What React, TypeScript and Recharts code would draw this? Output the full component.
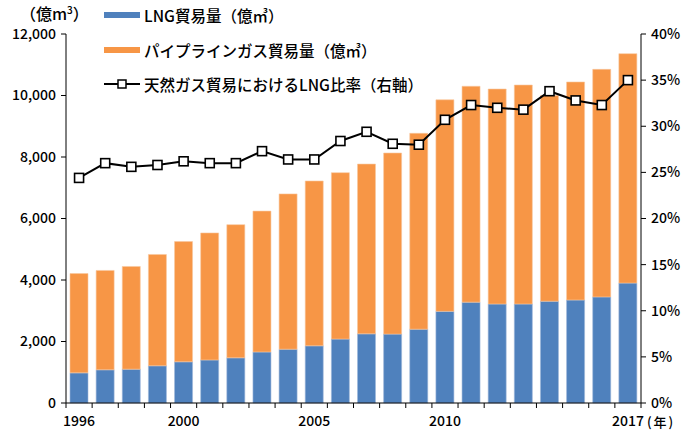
import React from "react";
import {
  ComposedChart,
  Bar,
  Line,
  XAxis,
  YAxis,
} from "recharts";

const years = [
  "1996", "1997", "1998", "1999", "2000", "2001", "2002", "2003", "2004", "2005", "2006",
  "2007", "2008", "2009", "2010", "2011", "2012", "2013", "2014", "2015", "2016", "2017",
];
// 億m3
const lngTrade = [
  980, 1080, 1100, 1210, 1340, 1400, 1470, 1660, 1750, 1860, 2080,
  2250, 2240, 2400, 2980, 3280, 3220, 3220, 3310, 3350, 3450, 3900,
];
const pipelineTrade = [
  3230, 3230, 3340, 3620, 3910, 4130, 4330, 4580, 5050, 5360, 5410,
  5520, 5890, 6370, 6880, 7020, 6990, 7120, 6690, 7090, 7400, 7460,
];
// %
const lngShare = [
  24.4, 26.0, 25.6, 25.8, 26.2, 26.0, 26.0, 27.3, 26.4, 26.4, 28.4,
  29.4, 28.1, 28.0, 30.7, 32.3, 32.0, 31.8, 33.8, 32.8, 32.3, 35.0,
];
const leftTicks = [0, 2000, 4000, 6000, 8000, 10000, 12000];
const rightTicks = [0, 5, 10, 15, 20, 25, 30, 35, 40];
const labelYears = ["1996", "2000", "2005", "2010", "2017"];

const BLUE = "#4F81BD";
const ORANGE = "#F79646";
const FONT = "'Noto Sans CJK JP', 'Noto Sans', sans-serif";
const WEIGHT = 500;

const W = 683;
const H = 438;
const LEFT_W = 66;
const RIGHT_W = 42;
const BAND = (W - LEFT_W - RIGHT_W) / years.length;

const data = years.map((y, i) => ({
  year: y,
  lng: lngTrade[i],
  pipe: pipelineTrade[i],
  share: lngShare[i],
}));

function YearTick(props: any) {
  const { x, y, payload, index } = props;
  const last = index === years.length - 1;
  return (
    <g>
      <line x1={x - BAND / 2} x2={x - BAND / 2} y1={y - 8} y2={y - 3} stroke="#000" strokeWidth={1} />
      {last && <line x1={x + BAND / 2} x2={x + BAND / 2} y1={y - 8} y2={y - 3} stroke="#000" strokeWidth={1} />}
      {labelYears.includes(payload.value) && (
        <text x={x} y={y + 15} textAnchor="middle" fontSize={14} fontWeight={WEIGHT} fontFamily={FONT} fill="#000">
          {payload.value}
        </text>
      )}
      {last && (
        <text x={x + 19} y={y + 16} textAnchor="start" fontSize={13} fontWeight={WEIGHT} fontFamily={FONT} fill="#000" letterSpacing={2}>
          (年)
        </text>
      )}
    </g>
  );
}

function SquareDot(props: any) {
  const { cx, cy } = props;
  if (cx == null || cy == null) return null;
  return <rect x={cx - 4.5} y={cy - 4.5} width={9} height={9} fill="#fff" stroke="#000" strokeWidth={1.6} />;
}

const legendItems = [
  { kind: "bar", color: BLUE, label: "LNG貿易量（億㎥）" },
  { kind: "bar", color: ORANGE, label: "パイプラインガス貿易量（億㎥）" },
  { kind: "line", color: "#000", label: "天然ガス貿易におけるLNG比率（右軸）" },
];

const tickStyle = { fontSize: 14, fill: "#000", fontFamily: FONT, fontWeight: WEIGHT };

export default function App() {
  return (
    <div style={{ position: "absolute", left: 0, top: 0, width: W, height: H, background: "#fff", fontFamily: FONT, fontWeight: WEIGHT }}>
      <ComposedChart width={W} height={H} data={data} margin={{ top: 34, right: 0, bottom: 0, left: 0 }}>
        <XAxis
          dataKey="year"
          height={35}
          axisLine={{ stroke: "#000" }}
          tickLine={false}
          tick={<YearTick />}
          interval={0}
        />
        <YAxis
          yAxisId="left"
          width={LEFT_W}
          domain={[0, 12000]}
          ticks={leftTicks}
          tickFormatter={(v: number) => v.toLocaleString("en-US")}
          tick={tickStyle}
          axisLine={{ stroke: "#000" }}
          tickLine={{ stroke: "#000" }}
          tickSize={5}
          tickMargin={5}
        />
        <YAxis
          yAxisId="right"
          orientation="right"
          width={RIGHT_W}
          domain={[0, 40]}
          ticks={rightTicks}
          tickFormatter={(v: number) => `${v}%`}
          tick={tickStyle}
          axisLine={{ stroke: "#000" }}
          tickLine={{ stroke: "#000" }}
          tickSize={5}
          tickMargin={5}
        />
        <Bar yAxisId="left" dataKey="lng" stackId="a" fill={BLUE} stroke="#9DB7DA" strokeWidth={0.6} barSize={18} isAnimationActive={false} />
        <Bar yAxisId="left" dataKey="pipe" stackId="a" fill={ORANGE} stroke="#F9C8A0" strokeWidth={0.6} barSize={18} isAnimationActive={false} />
        <Line
          yAxisId="right"
          dataKey="share"
          stroke="#000"
          strokeWidth={2}
          dot={<SquareDot />}
          activeDot={false}
          isAnimationActive={false}
        />
      </ComposedChart>

      <div style={{ position: "absolute", left: 20, top: 4, fontSize: 16, color: "#000", lineHeight: "18px", height: 18 }}>
        （億m<span style={{ fontSize: 10, position: "relative", top: -6 }}>3</span>）
      </div>

      <div style={{ position: "absolute", left: 104, top: -2 }}>
        {legendItems.map((it, i) => (
          <div key={i} style={{ display: "flex", alignItems: "center", height: 34.5, fontSize: 15.5, color: "#000", whiteSpace: "nowrap" }}>
            {it.kind === "bar" ? (
              <span style={{ display: "inline-block", width: 36, height: 6, background: it.color, marginRight: 4 }} />
            ) : (
              <svg width={36} height={12} style={{ marginRight: 4 }}>
                <line x1={0} x2={36} y1={6} y2={6} stroke="#000" strokeWidth={2} />
                <rect x={14} y={2} width={8} height={8} fill="#fff" stroke="#000" strokeWidth={1.5} />
              </svg>
            )}
            <span>{it.label}</span>
          </div>
        ))}
      </div>
    </div>
  );
}
